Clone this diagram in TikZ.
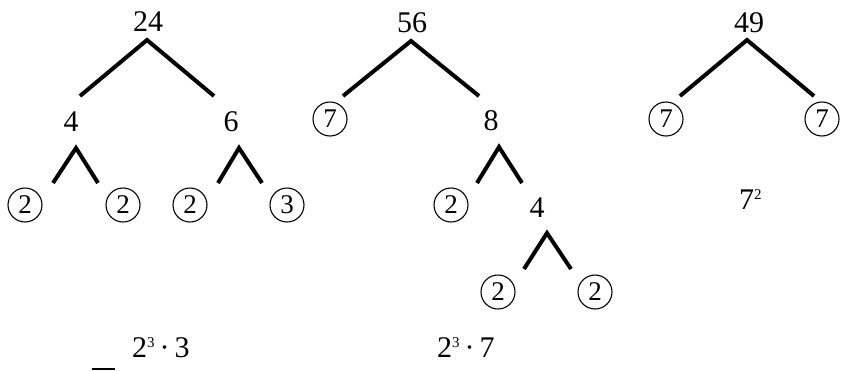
\documentclass[tikz,border=0pt]{standalone}
\usepackage{fontspec}
\setmainfont{Liberation Serif}
\tikzset{
  num/.style={font=\fontsize{30}{30}\selectfont, inner sep=0pt},
  circ/.style={circle, draw, line width=1.1pt, minimum size=34pt, inner sep=0pt, font=\fontsize{27}{27}\selectfont},
  branch/.style={line width=4pt, line join=miter},
  res/.style={font=\fontsize{30}{30}\selectfont, inner sep=0pt, anchor=base west}
}
\newcommand{\supr}[1]{\raisebox{10pt}{\fontsize{15}{15}\selectfont #1}}
\begin{document}
\begin{tikzpicture}[x=1pt,y=-1pt]
\useasboundingbox (0,0) rectangle (841,370);
% tree 24
\node[num] (n24) at (148,22) {24};
\node[num] (n4a) at (71,122) {4};
\node[num] (n6) at (231,122) {6};
\node[circ] (c2a) at (25,205) {2};
\node[circ] (c2b) at (123,205) {2};
\node[circ] (c2c) at (190,205) {2};
\node[circ] (c3) at (287,205) {3};
\coordinate (a24) at (147,40);
\coordinate (l24) at (80,96);
\coordinate (r24) at (214,96);
\coordinate (a4) at (76,148);
\coordinate (l4) at (53,183);
\coordinate (r4) at (98,183);
\coordinate (a6) at (239,148);
\coordinate (l6) at (218,183);
\coordinate (r6) at (262,183);
\draw[branch] (l24) -- (a24) -- (r24);
\draw[branch] (l4) -- (a4) -- (r4);
\draw[branch] (l6) -- (a6) -- (r6);
\node[res] (p24) at (132,357) {2\supr{3}\,·\,3};
% tree 56
\node[num] (n56) at (412,23) {56};
\node[circ] (c7a) at (330,119) {7};
\node[num] (n8) at (491,121) {8};
\node[circ] (c2d) at (451,205) {2};
\node[num] (n4b) at (537,208) {4};
\node[circ] (c2e) at (498,292) {2};
\node[circ] (c2f) at (595,292) {2};
\coordinate (a56) at (411,41);
\coordinate (l56) at (343,96);
\coordinate (r56) at (479,96);
\coordinate (a8) at (499,147);
\coordinate (l8) at (477,183);
\coordinate (r8) at (522,183);
\coordinate (a4b) at (547,233);
\coordinate (l4b) at (524,269);
\coordinate (r4b) at (571,269);
\draw[branch] (l56) -- (a56) -- (r56);
\draw[branch] (l8) -- (a8) -- (r8);
\draw[branch] (l4b) -- (a4b) -- (r4b);
\node[res] (p56) at (437,357) {2\supr{3}\,·\,7};
% tree 49
\node[num] (n49) at (749,23) {49};
\node[circ] (c7b) at (666,119) {7};
\node[circ] (c7c) at (822,119) {7};
\coordinate (a49) at (747,40);
\coordinate (l49) at (680,96);
\coordinate (r49) at (814,96);
\draw[branch] (l49) -- (a49) -- (r49);
\node[res] (p49) at (739,209) {7\supr{2}};
% cut-off mark at bottom
\fill (92,367.5) rectangle (115,370);
\end{tikzpicture}
\end{document}
